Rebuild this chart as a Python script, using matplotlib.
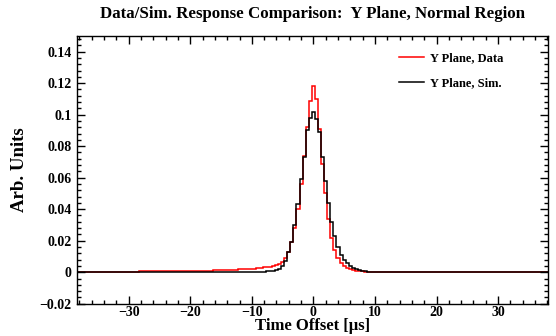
#!/usr/bin/env python3
"""Data vs. simulation response histograms, Y plane, normal region."""

import numpy as np
import matplotlib
matplotlib.use("Agg")
import matplotlib.pyplot as plt
from matplotlib.ticker import MultipleLocator, FuncFormatter

plt.rcParams["font.family"] = ["Liberation Serif", "DejaVu Serif"]
plt.rcParams["font.weight"] = "bold"

# bins: 2 us wide in the tails, 0.5 us wide around the peak
tail_width = 2.0
bin_width = 0.5
left_edges = np.arange(-38.25, -10.25 + 1e-9, tail_width)
core_edges = np.arange(-10.25, 10.25 + 1e-9, bin_width)
right_edges = np.arange(10.25, 38.25 + 1e-9, tail_width)
edges = np.concatenate([left_edges, core_edges[1:], right_edges[1:]])

# data (red)
data_left_tail = [0, 0, 0, 0.0001, 0.0003, 0.0007, 0.0009, 0.0009, 0.0009,
                  0.0009, 0.0010, 0.0011, 0.0014, 0.0018]
data_core = [0.0021, 0.0023, 0.0025, 0.0027, 0.0030, 0.0033, 0.0036, 0.0040,
             0.0045, 0.0052, 0.0065, 0.009, 0.013, 0.019, 0.028, 0.040,
             0.056, 0.074, 0.092, 0.109, 0.118, 0.110, 0.091, 0.069, 0.050,
             0.034, 0.022, 0.014, 0.009, 0.006, 0.004, 0.0028, 0.0020,
             0.0014, 0.0010, 0.0007, 0.0005, 0.0003, 0.0002, 0.0001, 0.0001]
data_right_tail = [0.0001, 0, 0, 0, 0, 0, 0, 0, 0, 0, 0, 0, 0, 0]

# simulation (black)
sim_left_tail = [0, 0, 0, 0, 0, 0, 0, 0, 0, 0, 0, 0, 0.0001, 0.0001]
sim_core = [0.0002, 0.0002, 0.0003, 0.0003, 0.0004, 0.0005, 0.0007, 0.0009,
            0.0013, 0.0022, 0.0038, 0.0072, 0.013, 0.019, 0.030, 0.043,
            0.059, 0.073, 0.090, 0.098, 0.102, 0.097, 0.089, 0.073, 0.058,
            0.044, 0.032, 0.023, 0.016, 0.011, 0.0078, 0.0056, 0.0038,
            0.0026, 0.0018, 0.0013, 0.0009, 0.0006, 0.0004, 0.0003, 0.0002]
sim_right_tail = [0.0001, 0.0001, 0, 0, 0, 0, 0, 0, 0, 0, 0, 0, 0, 0]

data = np.array(data_left_tail + data_core + data_right_tail)
sim = np.array(sim_left_tail + sim_core + sim_right_tail)

fig = plt.figure(figsize=(5.56, 3.36), dpi=100)
ax = fig.add_axes([0.1385, 0.0961, 0.847, 0.797])

ax.stairs(data, edges, baseline=None, color="#ff0000", lw=1.1, label="Y Plane, Data")
ax.stairs(sim, edges, baseline=None, color="black", lw=1.1, label="Y Plane, Sim.")

ax.set_xlim(-38.4, 38.1)
ax.set_ylim(-0.02, 0.15)

ax.xaxis.set_major_locator(MultipleLocator(10))
ax.xaxis.set_minor_locator(MultipleLocator(2))
ax.yaxis.set_major_locator(MultipleLocator(0.02))
ax.yaxis.set_minor_locator(MultipleLocator(0.004))
ax.yaxis.set_major_formatter(FuncFormatter(lambda v, p: f"{v:g}".replace("-", "\u2212")))

ax.tick_params(which="both", direction="in", top=True, right=True,
               labelsize=10, width=1.0)
ax.tick_params(which="major", length=6)
ax.tick_params(which="minor", length=3)
ax.tick_params(axis="x", which="major", pad=2)
ax.tick_params(axis="y", which="major", pad=4)
for s in ax.spines.values():
    s.set_linewidth(1.0)

ax.set_title("Data/Sim. Response Comparison:  Y Plane, Normal Region",
             fontsize=12.2, fontweight="bold", pad=13)
ax.set_xlabel("Time Offset [\u00b5s]", fontsize=12, fontweight="bold", labelpad=-1)
ax.set_ylabel("Arb. Units", fontsize=13.5, fontweight="bold", labelpad=8)

ax.legend(loc="upper left", frameon=False, fontsize=9, handlelength=2.0,
          handletextpad=0.5, bbox_to_anchor=(0.66, 0.98), labelspacing=1.0)

fig.savefig("out.png", dpi=100)
